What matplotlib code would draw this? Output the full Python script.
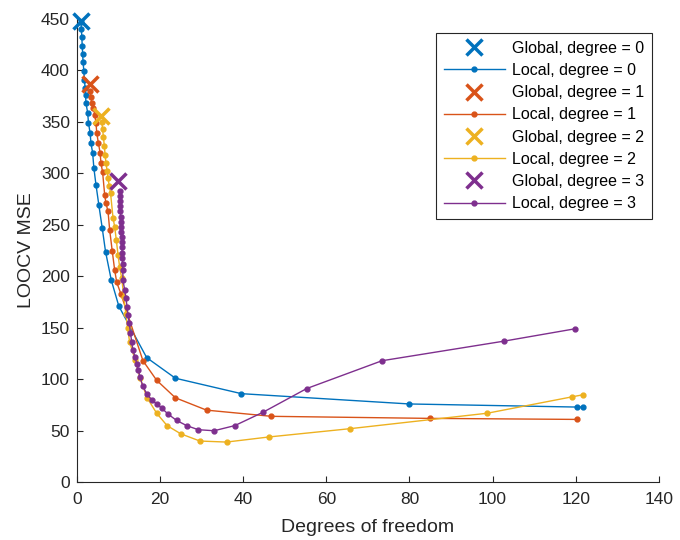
import matplotlib
matplotlib.use("Agg")
import matplotlib.pyplot as plt

plt.rcParams["font.family"] = ["Liberation Sans", "DejaVu Sans"]

colors = ["#0072BD", "#D95319", "#EDB120", "#7E2F8E"]

# global fits: (degrees of freedom, LOOCV MSE)
global_df = [1.0, 3.1, 5.8, 9.9]
global_mse = [448, 387, 356, 293]

# local fits, degree 0
local0_df = [1.0, 1.1, 1.2, 1.3, 1.4, 1.5, 1.7, 1.8, 2.0, 2.1, 2.2, 2.6, 2.8,
             3.2, 3.4, 3.8, 4.1, 4.6, 5.3, 6.1, 6.9, 8.3, 10.1, 16.8, 23.7,
             39.6, 80.0, 120.2, 121.8]
local0_mse = [447, 440, 432, 424, 416, 408, 399, 391, 383, 376, 368, 359, 349,
              339, 329, 320, 305, 289, 269, 247, 224, 196, 171, 121, 101,
              86, 76, 73, 73]

# local fits, degree 1
local1_df = [3.2, 3.4, 3.6, 4.0, 4.3, 4.6, 4.8, 5.2, 5.6, 5.8, 6.2, 6.7, 7.0,
             7.5, 7.9, 8.5, 9.1, 9.6, 10.6, 15.9, 19.2, 23.7, 31.2, 46.8,
             84.9, 120.4]
local1_mse = [380, 374, 368, 363, 357, 349, 339, 329, 320, 310, 301, 279, 271,
              263, 245, 225, 206, 194, 183, 118, 99, 82, 70, 64,
              62, 61]

# local fits, degree 2
local2_df = [6.0, 6.2, 6.4, 6.6, 6.8, 7.0, 7.3, 7.5, 7.8, 8.1, 8.7, 9.1, 9.5,
             9.9, 10.3, 10.8, 11.3, 11.8, 12.2, 12.7, 14.0, 15.2, 16.9, 19.2,
             21.7, 25.0, 29.6, 36.0, 46.3, 65.7, 98.7, 119.2, 121.8]
local2_mse = [350, 343, 335, 327, 318, 310, 302, 295, 288, 281, 257, 248, 235,
              221, 209, 198, 180, 163, 150, 136, 119, 101, 82, 67,
              55, 47, 40, 39, 44, 52, 67, 83, 85]

# local fits, degree 3
local3_df = [10.3, 10.35, 10.4, 10.45, 10.5, 10.55, 10.6, 10.65, 10.7, 10.75,
             10.8, 10.85, 10.9, 10.95, 11.0, 11.05, 11.1, 11.5, 11.8, 12.1,
             12.3, 12.6, 12.9, 13.2, 13.5, 14.0, 14.4, 14.8, 15.2, 15.9, 16.8,
             18.0, 19.2, 20.4, 22.0, 24.0, 26.4, 29.2, 33.0, 38.0, 44.8, 55.3,
             73.4, 102.7, 119.8]
local3_mse = [283, 278, 273, 268, 263, 258, 253, 248, 243, 238,
              233, 228, 223, 218, 212, 206, 196, 187, 179, 170,
              162, 155, 145, 136, 128, 122, 115, 109, 102, 93, 86,
              80, 76, 72, 66, 60, 55, 51, 50, 55, 68, 91,
              118, 137, 149]

local_df = [local0_df, local1_df, local2_df, local3_df]
local_mse = [local0_mse, local1_mse, local2_mse, local3_mse]

fig = plt.figure(figsize=(6.8, 5.4), dpi=100)
ax = fig.add_axes([0.113, 0.107, 0.856, 0.858])

for d in range(4):
    ax.plot(global_df[d], global_mse[d], linestyle="none", marker="x",
            markersize=11, markeredgewidth=2.5, color=colors[d],
            label=f"Global, degree = {d}", clip_on=False, zorder=3)
    ax.plot(local_df[d], local_mse[d], "-", marker="o", markersize=3.5,
            linewidth=1.0, color=colors[d], label=f"Local, degree = {d}")

ax.set_xlim(0, 140)
ax.set_ylim(0, 450)
ax.set_xticks(range(0, 141, 20))
ax.set_yticks(range(0, 451, 50))
ax.set_xlabel("Degrees of freedom", fontsize=14, color="#262626", labelpad=9)
ax.set_ylabel("LOOCV MSE", fontsize=14, color="#262626", labelpad=4)

for s in ["top", "right"]:
    ax.spines[s].set_visible(False)
for s in ["left", "bottom"]:
    ax.spines[s].set_color("#262626")
    ax.spines[s].set_linewidth(0.8)
ax.tick_params(direction="in", length=4, width=0.8, colors="#262626",
               labelsize=12.5, pad=5)
ax.tick_params(axis="x", pad=7)

leg = ax.legend(loc="upper right", bbox_to_anchor=(0.988, 0.97), fontsize=11.5,
                frameon=True, fancybox=False, framealpha=1, edgecolor="#262626",
                handlelength=3.8, borderpad=0.5, labelspacing=0.45,
                handletextpad=0.45, borderaxespad=0)
leg.get_frame().set_linewidth(0.8)

fig.savefig("out.png", dpi=100)
